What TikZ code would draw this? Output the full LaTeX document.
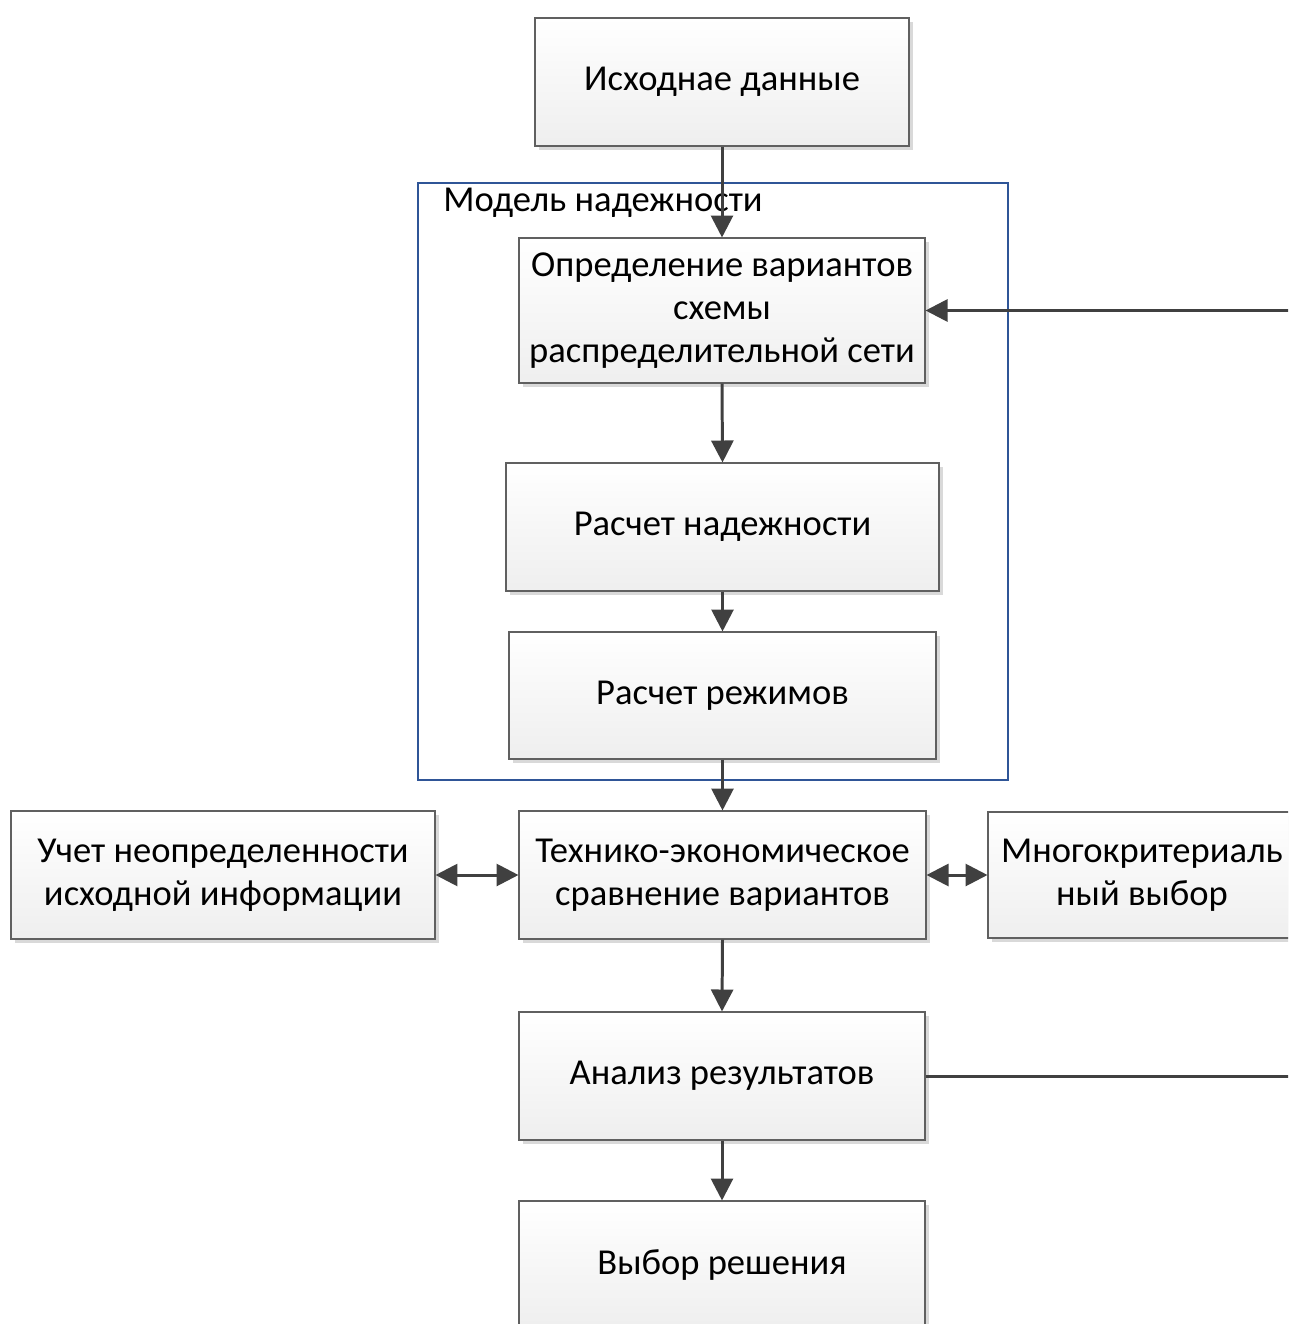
\documentclass[tikz,border=0pt]{standalone}
\usepackage{fontspec}
\setmainfont{Carlito}
\usetikzlibrary{arrows.meta,shadows}
\definecolor{linec}{HTML}{404040}
\definecolor{framec}{HTML}{2F5597}
\tikzset{
  box/.style={draw=gray!75!black, line width=0.6pt, top color=white, bottom color=gray!13,
    align=center, inner sep=2pt, font=\fontsize{20.8}{24.5}\selectfont,
    drop shadow={shadow xshift=2.3pt, shadow yshift=-2.3pt, fill=gray!30, opacity=1}},
  conn/.style={draw=linec, line width=1.7pt, -{Triangle[length=12.5pt,width=12.5pt]}},
  biconn/.style={draw=linec, line width=1.7pt, {Triangle[length=12.5pt,width=12.5pt]}-{Triangle[length=12.5pt,width=12.5pt]}},
  plain/.style={draw=linec, line width=1.7pt},
}
\newcommand{\bx}[6]{\node[box, minimum width=#4*0.02cm, minimum height=#5*0.02cm] (#1) at (#2,#3) {#6};}
\begin{document}
\begin{tikzpicture}[x=0.02cm,y=-0.02cm]
\useasboundingbox (0,0) rectangle (1288,1324);
\clip (0,0) rectangle (1288,1324);
% frame
\draw[framec, line width=0.6pt] (418,183) rectangle (1008,780);
\node[anchor=west, font=\fontsize{20.8}{24.5}\selectfont, inner sep=0pt] (mlabel) at (443,203) {Модель надежности};
% boxes
\bx{src}{722}{82}{374}{128}{Исходнае данные}
\bx{opr}{722}{310.5}{406}{145}{Определение вариантов\\схемы\\распределительной сети}
\bx{rn}{722.5}{527}{433}{128}{Расчет надежности}
\bx{rr}{722.5}{695.5}{427}{127}{Расчет режимов}
\bx{te}{722.5}{875}{407}{128}{Технико-экономическое\\сравнение вариантов}
\bx{un}{223}{875}{424}{128}{Учет неопределенности\\исходной информации}
\bx{mk}{1142}{875}{308}{126}{Многокритериаль\\ный выбор}
\bx{an}{722}{1076}{406}{128}{Анализ результатов}
\bx{vr}{722}{1265}{406}{128}{Выбор решения}
% connectors
\draw[conn] (src.south) -- (opr.north);
\draw[conn] (opr.south) -- (rn.north);
\draw[conn] (rn.south) -- (rr.north);
\draw[conn] (rr.south) -- (te.north);
\draw[conn] (te.south) -- (an.north);
\draw[conn] (an.south) -- (vr.north);
\draw[biconn] (un.east) -- (te.west);
\draw[biconn] (te.east) -- (mk.west);
\coordinate (fb1) at (1292,1076);
\coordinate (fb2) at (1292,310.5);
\draw[plain] (an.east) -- (fb1) -- (fb2);
\draw[conn] (fb2) -- (opr.east);
\end{tikzpicture}
\end{document}
